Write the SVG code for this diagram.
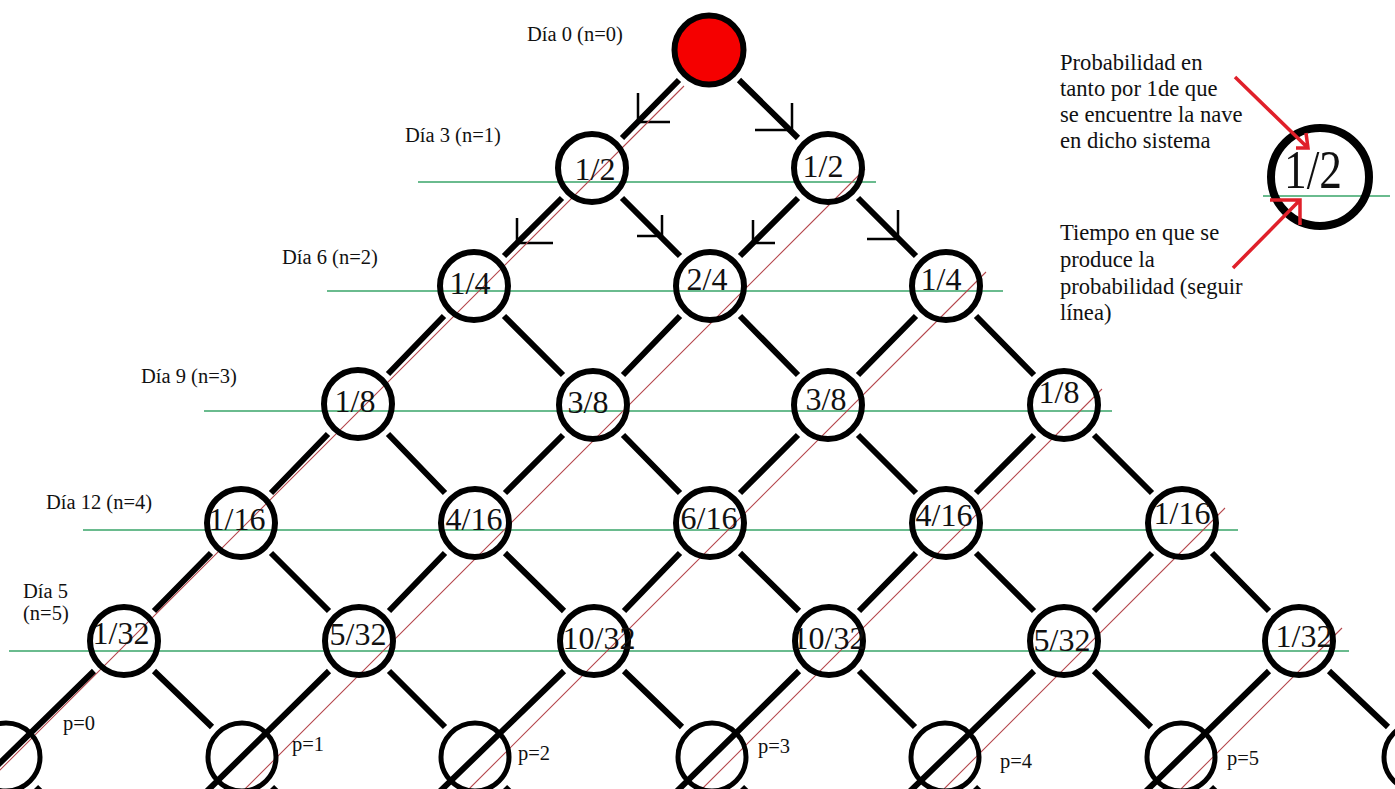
<svg xmlns="http://www.w3.org/2000/svg" width="1395" height="789" viewBox="0 0 1395 789">
<style>
text{font-family:"Liberation Serif","Times New Roman",serif;fill:#111}
.lbl{font-size:20.5px}
.val{font-size:32px;text-anchor:middle}
.leg{font-size:22.6px}
.node{fill:none;stroke:#000;stroke-width:6}
.node6{fill:none;stroke:#000;stroke-width:5}
.edge{stroke:#000;stroke-width:6;fill:none}
.tick{stroke:#000;stroke-width:2.5;fill:none}
.green{stroke:#3aa56a;stroke-width:1.3}
.red{stroke:#b5474d;stroke-width:1.1}
.rarrow{stroke:#e0202a;stroke-width:3.5;fill:none}
</style>
<rect width="1395" height="789" fill="#fff"/>
<g id="connectors">
<path class="edge" d="M679,80L622,138M739,80L798,138
M562,198L504,256M622,198L680,256M798,198L740,256M858,198L916,256
M444,316L388,374M504,316L563,375M680,316L623,375M740,316L798,375M916,316L858,375M976,316L1034,375
M328,434L271,493M388,434L445,493M563,435L505,493M623,435L680,493M798,435L740,493M858,435L916,493M1034,435L976,493M1094,435L1152,493
M211,553L154,611M271,553L329,611M445,553L389,611M505,553L564,611M680,553L624,611M740,553L799,611M916,553L859,611M976,553L1034,611M1152,553L1094,611M1212,553L1269,611
M94,671L-38,800M154,671L212,727M329,671L198,800M389,671L445,727M564,671L431,800M624,671L682,727M799,671L668,800M859,671L915,727M1034,671L901,800M1094,671L1151,727M1269,671L1137,800M1329,671L1388,727
M36,787L50,801M272,787L286,801M505,787L519,801M742,787L756,801M975,787L989,801M1211,787L1225,801"/>
<path class="tick" d="M638,93V122H670M792,103V130H755M517,218V243H553M662,215V236H637M753,220V243H775M898,210V239H867"/>
</g>
<g id="guides">
<path class="green" d="M418,182H876M327,291H1003M204,411H1112M83,530H1238M9,651H1349M1263,196H1390"/>
<path class="red" d="M684,86L-19,789M865,169L245,789M986,272L469,789M1102,389L702,789M1225,508L944,789M1342,628L1181,789"/>
</g>
<g id="n0"><circle cx="709" cy="50" r="34.5" fill="#f50000" stroke="#000" stroke-width="6"/></g>
<g id="n1a"><circle class="node" cx="592" cy="168" r="34"/><text class="val" x="595" y="180">1/2</text></g>
<g id="n1b"><circle class="node" cx="828" cy="168" r="34"/><text class="val" x="823" y="177">1/2</text></g>
<g id="n2a"><circle class="node" cx="474" cy="286" r="34"/><text class="val" x="470" y="294">1/4</text></g>
<g id="n2b"><circle class="node" cx="710" cy="286" r="34"/><text class="val" x="707" y="290">2/4</text></g>
<g id="n2c"><circle class="node" cx="946" cy="286" r="34"/><text class="val" x="941" y="290">1/4</text></g>
<g id="n3a"><circle class="node" cx="358" cy="404" r="34"/><text class="val" x="355" y="412">1/8</text></g>
<g id="n3b"><circle class="node" cx="593" cy="405" r="34"/><text class="val" x="588" y="413">3/8</text></g>
<g id="n3c"><circle class="node" cx="828" cy="405" r="34"/><text class="val" x="826" y="410">3/8</text></g>
<g id="n3d"><circle class="node" cx="1064" cy="405" r="34"/><text class="val" x="1059" y="403">1/8</text></g>
<g id="n4a"><circle class="node" cx="241" cy="523" r="34"/><text class="val" x="237" y="530">1/16</text></g>
<g id="n4b"><circle class="node" cx="475" cy="523" r="34"/><text class="val" x="474" y="530">4/16</text></g>
<g id="n4c"><circle class="node" cx="710" cy="523" r="34"/><text class="val" x="709" y="529">6/16</text></g>
<g id="n4d"><circle class="node" cx="946" cy="523" r="34"/><text class="val" x="944" y="526">4/16</text></g>
<g id="n4e"><circle class="node" cx="1182" cy="523" r="34"/><text class="val" x="1182" y="524">1/16</text></g>
<g id="n5a"><circle class="node" cx="124" cy="641" r="34"/><text class="val" x="121" y="644">1/32</text></g>
<g id="n5b"><circle class="node" cx="359" cy="641" r="34"/><text class="val" x="358" y="645">5/32</text></g>
<g id="n5c"><circle class="node" cx="594" cy="641" r="34"/><text class="val" x="599" y="649">10/32</text></g>
<g id="n5d"><circle class="node" cx="829" cy="641" r="34"/><text class="val" x="829" y="649">10/32</text></g>
<g id="n5e"><circle class="node" cx="1064" cy="641" r="34"/><text class="val" x="1062" y="651">5/32</text></g>
<g id="n5f"><circle class="node" cx="1299" cy="641" r="34"/><text class="val" x="1304" y="647">1/32</text></g>
<g id="n6a"><circle class="node6" cx="6" cy="757" r="34"/></g>
<g id="n6b"><circle class="node6" cx="242" cy="757" r="34"/></g>
<g id="n6c"><circle class="node6" cx="475" cy="757" r="34"/></g>
<g id="n6d"><circle class="node6" cx="712" cy="757" r="34"/></g>
<g id="n6e"><circle class="node6" cx="945" cy="757" r="34"/></g>
<g id="n6f"><circle class="node6" cx="1181" cy="757" r="34"/></g>
<g id="n6g"><circle class="node6" cx="1418" cy="757" r="34"/></g>
<g id="labels">
<text class="lbl" x="527" y="41">Día 0 (n=0)</text>
<text class="lbl" x="405" y="142">Día 3 (n=1)</text>
<text class="lbl" x="282" y="264">Día 6 (n=2)</text>
<text class="lbl" x="141" y="383">Día 9 (n=3)</text>
<text class="lbl" x="46" y="509">Día 12 (n=4)</text>
<text class="lbl" x="23" y="598">Día 5</text>
<text class="lbl" x="23" y="620">(n=5)</text>
<text class="lbl" x="63" y="730">p=0</text>
<text class="lbl" x="292" y="751">p=1</text>
<text class="lbl" x="518" y="760">p=2</text>
<text class="lbl" x="758" y="753">p=3</text>
<text class="lbl" x="1000" y="768">p=4</text>
<text class="lbl" x="1227" y="765">p=5</text>
</g>
<g id="legend">
<circle cx="1320" cy="177" r="49" fill="none" stroke="#000" stroke-width="8"/>
<text x="1313" y="188" font-size="54" text-anchor="middle" textLength="58" lengthAdjust="spacingAndGlyphs">1/2</text>
<text class="leg" x="1060" y="70">Probabilidad en</text>
<text class="leg" x="1060" y="96">tanto por 1de que</text>
<text class="leg" x="1060" y="122">se encuentre la nave</text>
<text class="leg" x="1060" y="148">en dicho sistema</text>
<text class="leg" x="1060" y="240">Tiempo en que se</text>
<text class="leg" x="1060" y="267">produce la</text>
<text class="leg" x="1060" y="294">probabilidad (seguir</text>
<text class="leg" x="1060" y="320">línea)</text>
<path class="rarrow" d="M1235,77L1308,148M1306,133L1308,148H1296"/>
<path class="rarrow" d="M1233,268L1300,200M1270,200H1300V225"/>
</g>
</svg>
